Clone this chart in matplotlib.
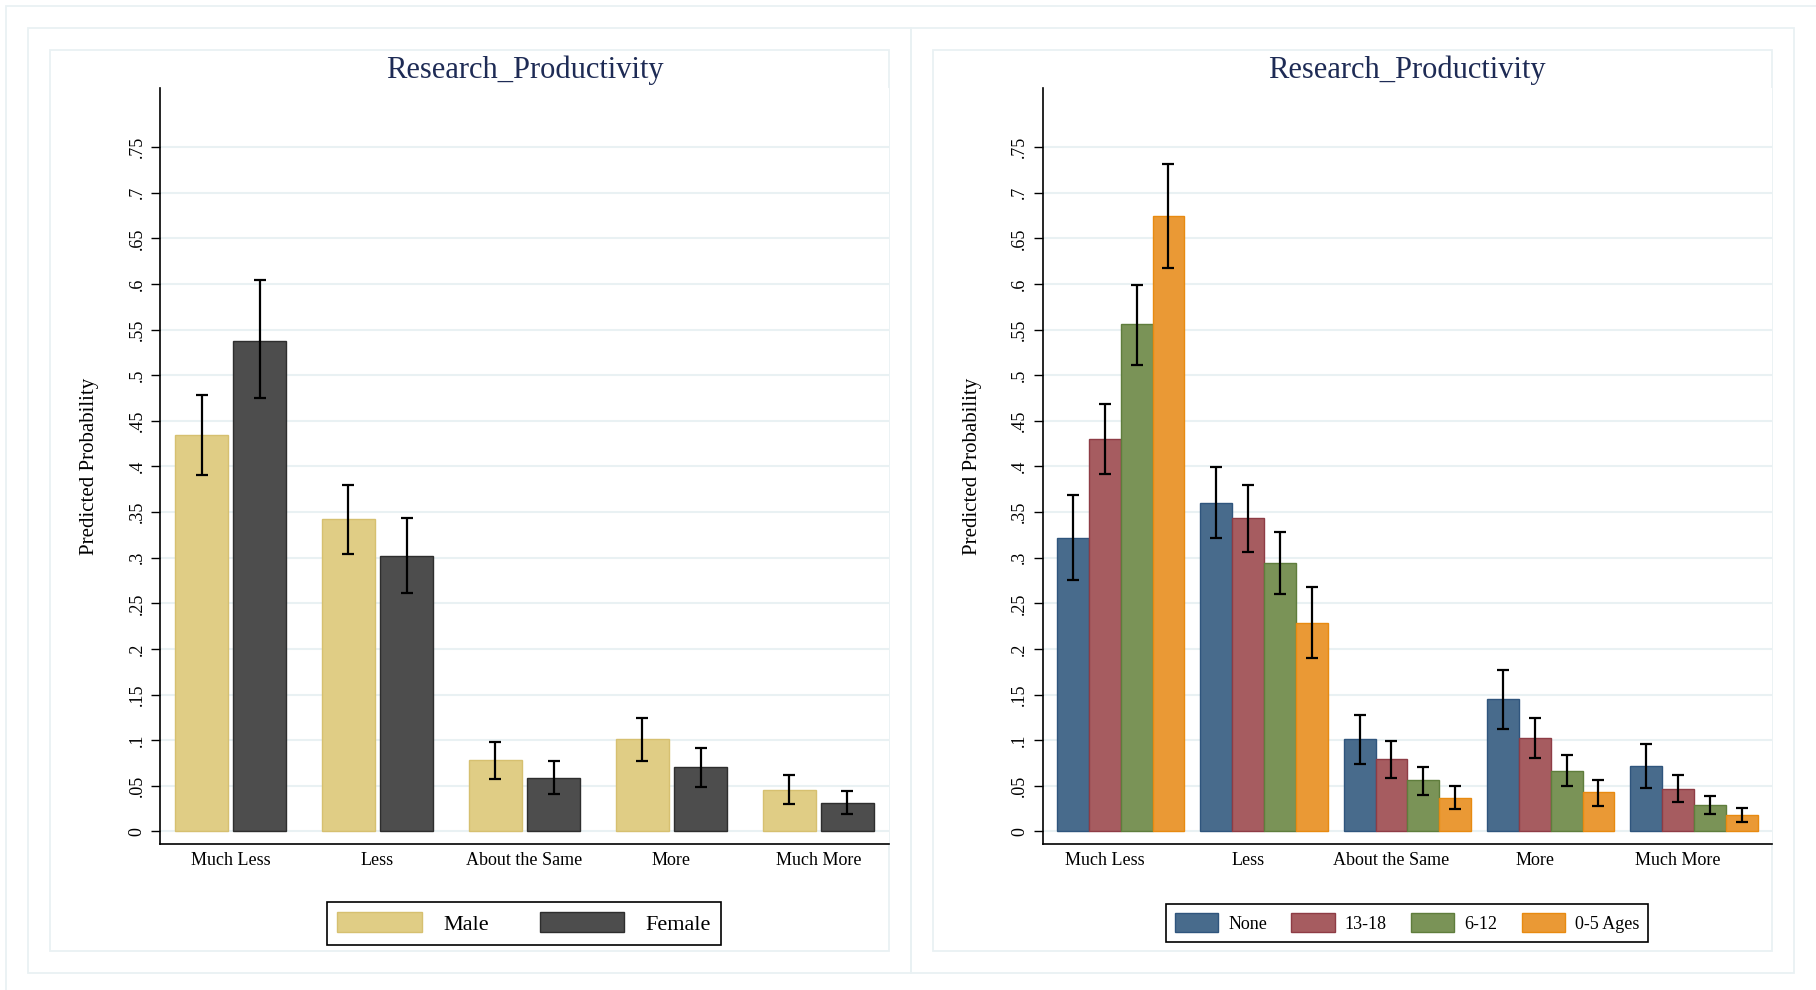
import numpy as np
import matplotlib
matplotlib.use("Agg")
import matplotlib.pyplot as plt
from matplotlib.patches import Rectangle

categories = ["Much Less", "Less", "About the Same", "More", "Much More"]
yticks = [0, 0.05, 0.1, 0.15, 0.2, 0.25, 0.3, 0.35, 0.4, 0.45, 0.5, 0.55, 0.6, 0.65, 0.7, 0.75]
ytick_labels = ["0", ".05", ".1", ".15", ".2", ".25", ".3", ".35", ".4", ".45",
                ".5", ".55", ".6", ".65", ".7", ".75"]

# gender panel
gender_labels = ["Male", "Female"]
male = [0.435, 0.342, 0.078, 0.101, 0.046]
male_lo = [0.391, 0.304, 0.057, 0.0775, 0.030]
male_hi = [0.478, 0.380, 0.098, 0.124, 0.062]
female = [0.538, 0.302, 0.059, 0.071, 0.031]
female_lo = [0.475, 0.261, 0.041, 0.049, 0.019]
female_hi = [0.604, 0.343, 0.077, 0.092, 0.044]

# children age panel
age_labels = ["None", "13-18", "6-12", "0-5 Ages"]
age_none = [0.322, 0.360, 0.101, 0.145, 0.072]
age_none_lo = [0.276, 0.322, 0.074, 0.112, 0.048]
age_none_hi = [0.369, 0.399, 0.128, 0.177, 0.096]
age_13_18 = [0.430, 0.343, 0.079, 0.102, 0.047]
age_13_18_lo = [0.392, 0.306, 0.059, 0.080, 0.032]
age_13_18_hi = [0.468, 0.380, 0.099, 0.124, 0.062]
age_6_12 = [0.556, 0.294, 0.056, 0.066, 0.029]
age_6_12_lo = [0.511, 0.260, 0.040, 0.050, 0.019]
age_6_12_hi = [0.599, 0.328, 0.071, 0.084, 0.039]
age_0_5 = [0.674, 0.229, 0.037, 0.043, 0.018]
age_0_5_lo = [0.617, 0.190, 0.025, 0.028, 0.010]
age_0_5_hi = [0.731, 0.268, 0.050, 0.056, 0.026]

W, H = 1816, 990
SERIF = "Liberation Serif"
GRID = "#E9F1F3"
TITLE_COLOR = "#1E2B55"


def px_rect(x0, y0, x1, y1):
    # pixel box (top-left origin) -> figure fraction rect
    return [x0 / W, (H - y1) / H, (x1 - x0) / W, (y1 - y0) / H]


def frame(fig, x0, y0, x1, y1):
    r = Rectangle((x0 / W, (H - y1) / H), (x1 - x0) / W, (y1 - y0) / H,
                  transform=fig.transFigure, fill=False,
                  edgecolor=GRID, linewidth=1.3, zorder=0)
    fig.add_artist(r)


def style_axes(ax, xlim, label_shift=0.0):
    ax.set_ylim(-0.0137, 0.8143)
    ax.set_xlim(*xlim)
    ax.set_yticks(yticks)
    ax.set_yticklabels(ytick_labels, rotation=90, va="center",
                       family=SERIF, fontsize=13)
    # stata puts the category label a bit off the group centre here
    ax.set_xticks(np.arange(len(categories)) - label_shift)
    ax.set_xticklabels(categories, family=SERIF, fontsize=13)
    ax.tick_params(axis="x", length=0, pad=6)
    ax.tick_params(axis="y", length=6.5, width=1.0, pad=4)
    ax.grid(axis="y", color=GRID, linewidth=1.5)
    ax.set_axisbelow(True)
    for s in ["top", "right"]:
        ax.spines[s].set_visible(False)
    for s in ["left", "bottom"]:
        ax.spines[s].set_linewidth(1.2)
    ax.set_ylabel("Predicted Probability", family=SERIF, fontsize=15,
                  labelpad=21)


def draw_bars(ax, series, lows, highs, colors, edges, labels, width, gap=0.0):
    x = np.arange(len(categories))
    n = len(series)
    offsets = (np.arange(n) - (n - 1) / 2) * (width + gap)
    for vals, lo, hi, c, e, lab, off in zip(series, lows, highs, colors,
                                            edges, labels, offsets):
        ax.bar(x + off, vals, width=width, color=c, edgecolor=e,
               linewidth=1.0, label=lab, zorder=2)
        vals = np.array(vals)
        err = [vals - np.array(lo), np.array(hi) - vals]
        ax.errorbar(x + off, vals, yerr=err, fmt="none", ecolor="black",
                    elinewidth=1.6, capsize=4.3, capthick=1.6, zorder=3)


def main():
    fig = plt.figure(figsize=(W / 100, H / 100), dpi=100)
    fig.patch.set_facecolor("white")

    # outer frames (Stata graph region look)
    frame(fig, 6, 6, 1830, 1000)
    frame(fig, 28, 28, 911, 973)
    frame(fig, 911, 28, 1794, 973)
    frame(fig, 50, 50, 889, 951)
    frame(fig, 933, 50, 1772, 951)

    # left panel: gender
    ax1 = fig.add_axes(px_rect(160, 88.4, 889, 844))
    draw_bars(ax1, [male, female], [male_lo, female_lo],
              [male_hi, female_hi], ["#E0CD85", "#4D4D4D"],
              ["#D6C070", "#2E2E2E"], gender_labels, 0.365, gap=0.03)
    style_axes(ax1, (-0.48, 4.48))
    fig.text(524.5 / W, 1 - 70.5 / H, "Research_Productivity", family=SERIF,
             fontsize=22, color=TITLE_COLOR, ha="center", va="center")
    ax1.legend(loc="center", bbox_to_anchor=(524 / W, 1 - 923.5 / H),
               bbox_transform=fig.transFigure, ncol=2, frameon=True,
               fancybox=False, edgecolor="black", framealpha=1,
               prop={"family": SERIF, "size": 16}, handlelength=3.8,
               handleheight=1.0, handletextpad=0.95, columnspacing=2.3,
               borderpad=0.45, borderaxespad=0).get_frame().set_linewidth(1.2)

    # right panel: age of children
    ax2 = fig.add_axes(px_rect(1042.5, 88.4, 1772, 844))
    draw_bars(ax2, [age_none, age_13_18, age_6_12, age_0_5],
              [age_none_lo, age_13_18_lo, age_6_12_lo, age_0_5_lo],
              [age_none_hi, age_13_18_hi, age_6_12_hi, age_0_5_hi],
              ["#486B8C", "#A65C60", "#7A9357", "#EA9935"],
              ["#2F557D", "#8E3C45", "#5F7D3C", "#E88A10"],
              age_labels, 0.222)
    style_axes(ax2, (-0.546, 4.544), label_shift=0.111)
    fig.text(1407 / W, 1 - 70.5 / H, "Research_Productivity", family=SERIF,
             fontsize=22, color=TITLE_COLOR, ha="center", va="center")
    ax2.legend(loc="center", bbox_to_anchor=(1407 / W, 1 - 923 / H),
               bbox_transform=fig.transFigure, ncol=4, frameon=True,
               fancybox=False, edgecolor="black", framealpha=1,
               prop={"family": SERIF, "size": 13}, handlelength=2.4,
               handleheight=1.2, handletextpad=0.55, columnspacing=1.35,
               borderpad=0.5, borderaxespad=0).get_frame().set_linewidth(1.2)

    fig.savefig("out.png", dpi=100)
    plt.close(fig)


if __name__ == "__main__":
    main()
